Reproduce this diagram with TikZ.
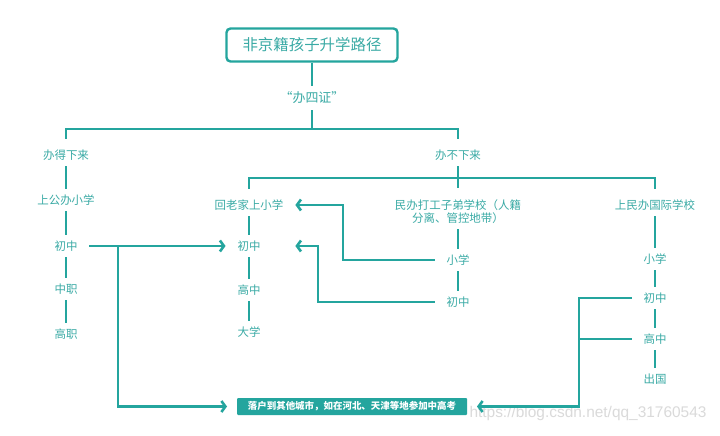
\documentclass[tikz,border=0pt]{standalone}
\usepackage{fontspec}
\setmainfont{Noto Sans CJK SC}
\newfontfamily\markfont{Liberation Sans}
\usetikzlibrary{arrows.meta,calc}
\definecolor{route}{HTML}{24A59E}
\definecolor{routetext}{HTML}{3AAAA5}
\definecolor{mark}{HTML}{DADADA}
\tikzset{
  stage/.style={font=\fontsize{11.5}{13}\selectfont,text=routetext,align=center,inner sep=1bp,outer xsep=11bp,outer ysep=5bp},
  headbox/.style={draw=route,line width=2.4bp,rounded corners=4bp,fill=white,text=routetext,font=\fontsize{15.5}{18}\selectfont,minimum width=171bp,minimum height=33bp},
  goalbox/.style={fill=route,text=white,font=\fontsize{9.5}{11}\selectfont\bfseries,rounded corners=1bp,minimum width=230bp,minimum height=17bp,inner sep=0pt,outer xsep=10bp},
  link/.style={draw=route,line width=2.6bp},
  pointer/.style={link,-{Straight Barb[length=4bp,width=11bp]}}
}
\begin{document}
\begin{tikzpicture}[x=1bp,y=-1bp]
\path[fill=white,use as bounding box] (0,0) rectangle (720,436);

\node[headbox] (title) at (312,45) {非京籍孩子升学路径};
\node[stage,font=\fontsize{13}{15}\selectfont] (cert) at (312,98) {\makebox[12.5bp][r]{“}办四证\makebox[12.5bp][l]{”}};
\node[stage] (able) at (66,155) {办得下来};
\node[stage] (unable) at (458,155) {办不下来};

% 办得下来
\node[stage] (pubpri) at (66,200) {上公办小学};
\node[stage] (ljunior) at (66,246) {初中};
\node[stage] (voc) at (66,289) {中职};
\node[stage] (hvoc) at (66,334) {高职};

% 办不下来
\node[stage] (home) at (249,205) {回老家上小学};
\node[stage] (hjunior) at (249,246) {初中};
\node[stage] (hsenior) at (249,290) {高中};
\node[stage] (univ) at (249,332) {大学};

\node[stage] (work) at (458,211.5) {民办打工子弟学校（人籍\\分离、管控地带）};
\node[stage] (wprim) at (458,260) {小学};
\node[stage] (wjunior) at (458,302) {初中};

\node[stage] (intl) at (655,205) {上民办国际学校};
\node[stage] (iprim) at (655,259) {小学};
\node[stage] (ijunior) at (655,298) {初中};
\node[stage] (isenior) at (655,339) {高中};
\node[stage] (abroad) at (655,379) {出国};

\node[goalbox] (settle) at (352,406.5) {落户到其他城市，如在河北、天津等地参加中高考};
\node[font=\markfont\fontsize{15.5}{18}\selectfont,text=mark,inner sep=0pt] (watermark) at (588,414) {https://blog.csdn.net/qq\_31760543};

\coordinate (topbus) at (312,129);
\coordinate (midbus) at (458,178);
\coordinate (split) at (118,246);
\coordinate (hook1) at (343,230);
\coordinate (hook2) at (318,270);
\coordinate (rbus) at (579,350);

\draw[link] (title) -- (cert);
\draw[link] (cert) -- (topbus);
\draw[link] ([yshift=5bp]able.north) |- (topbus) -| ([yshift=5bp]unable.north);
\draw[link] (unable) -- ([yshift=6bp]work.north);
\draw[link] ([yshift=5bp]home.north) |- (midbus) -| ([yshift=5bp]intl.north);
\foreach \a/\b in {able/pubpri,pubpri/ljunior,ljunior/voc,voc/hvoc,
  home/hjunior,hjunior/hsenior,hsenior/univ,work/wprim,wprim/wjunior,
  intl/iprim,iprim/ijunior,ijunior/isenior,isenior/abroad}
  \draw[link] (\a) -- (\b);

\draw[pointer] (ljunior) -- (hjunior);
\draw[pointer] (split) |- (settle);
\draw[pointer] (wprim) -| (hook1) |- (home);
\draw[pointer] (wjunior) -| (hook2) |- (hjunior.east -| home.east);
\draw[pointer] (ijunior) -| (rbus) |- (settle);
\draw[link] (isenior) -- (isenior -| rbus);
\end{tikzpicture}
\end{document}
